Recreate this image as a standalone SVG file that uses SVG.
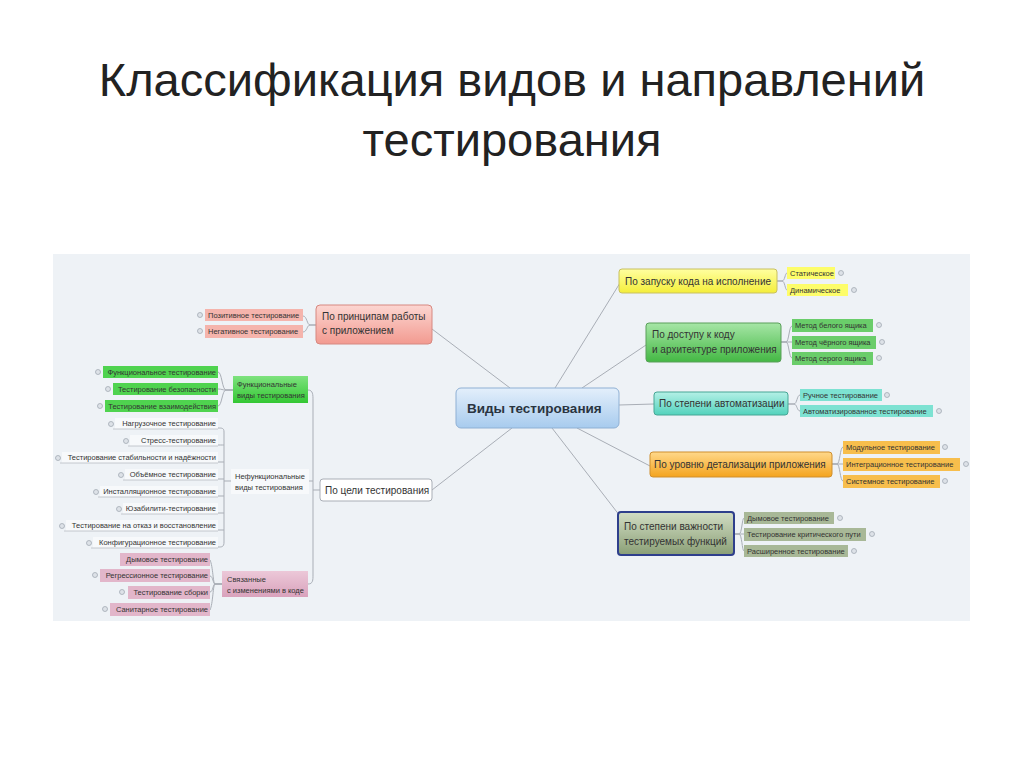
<svg xmlns="http://www.w3.org/2000/svg" width="1024" height="767" viewBox="0 0 1024 767">
<defs>
<linearGradient id="gC" x1="0" y1="0" x2="0" y2="1"><stop offset="0" stop-color="#e3effb"/><stop offset="1" stop-color="#a7cbee"/></linearGradient>
<linearGradient id="gR" x1="0" y1="0" x2="0" y2="1"><stop offset="0" stop-color="#fcd6d1"/><stop offset="1" stop-color="#f29a90"/></linearGradient>
<linearGradient id="gY" x1="0" y1="0" x2="0" y2="1"><stop offset="0" stop-color="#ffffa0"/><stop offset="1" stop-color="#f4ee3a"/></linearGradient>
<linearGradient id="gG" x1="0" y1="0" x2="0" y2="1"><stop offset="0" stop-color="#a6e6a6"/><stop offset="1" stop-color="#44b844"/></linearGradient>
<linearGradient id="gT" x1="0" y1="0" x2="0" y2="1"><stop offset="0" stop-color="#b4f0e6"/><stop offset="1" stop-color="#52d2bc"/></linearGradient>
<linearGradient id="gO" x1="0" y1="0" x2="0" y2="1"><stop offset="0" stop-color="#ffd88a"/><stop offset="1" stop-color="#f4a41e"/></linearGradient>
<linearGradient id="gV" x1="0" y1="0" x2="0" y2="1"><stop offset="0" stop-color="#d2ddc4"/><stop offset="1" stop-color="#8a9f76"/></linearGradient>
<linearGradient id="gF" x1="0" y1="0" x2="0" y2="1"><stop offset="0" stop-color="#7ee27e"/><stop offset="1" stop-color="#33c733"/></linearGradient>
<linearGradient id="gP" x1="0" y1="0" x2="0" y2="1"><stop offset="0" stop-color="#ecc8d8"/><stop offset="1" stop-color="#d9a2bc"/></linearGradient>
</defs>
<style>
text{font-family:"Liberation Sans",Arial,sans-serif;fill:#333}
.title{font-size:47px;fill:#222;text-anchor:middle}
.b{font-size:10px}
.s{font-size:7.5px}
.sr{font-size:7.5px;text-anchor:end}
.c{font-size:13.5px;font-weight:bold;fill:#2a3440}
.con path,.con line{fill:none;stroke:#a9aeb6;stroke-width:1}
.dot{fill:#dde2e8;stroke:#9aa2ac;stroke-width:0.7}
.ul{stroke:#b8bcc4;stroke-width:0.8;fill:none}
</style>
<rect width="1024" height="767" fill="#ffffff"/>
<text class="title" x="512" y="96">Классификация видов и направлений</text>
<text class="title" x="512" y="156">тестирования</text>
<rect x="53" y="254" width="917" height="367" fill="#eef2f6"/>

<g id="connectors" class="con">
<line x1="510" y1="388" x2="432" y2="329"/>
<line x1="555" y1="388" x2="620" y2="283"/>
<line x1="582" y1="388" x2="646" y2="345"/>
<line x1="619" y1="405" x2="654" y2="404"/>
<line x1="577" y1="428" x2="650" y2="466"/>
<line x1="552" y1="428" x2="620" y2="516"/>
<line x1="512" y1="428" x2="432" y2="490"/>
<path d="M316,325 H310 C307,325 307,316 303,316"/>
<path d="M316,325 H310 C307,325 307,332 303,332"/>
<path d="M320,490 H313"/>
<path d="M308,390 C313,390 313,395 313,400 V575 C313,580 313,584 308,584"/>
<path d="M313,481 H309"/>
<path d="M233,390 H226 C222,390 222,372 218,372"/>
<path d="M233,390 H226 C222,390 222,389 218,389"/>
<path d="M233,390 H226 C222,390 222,406 218,406"/>
<path d="M231,481 H224"/>
<path d="M224,481 V432 C224,428 222,428 218,428"/>
<path d="M224,445 C224,445 222,445 218,445"/>
<path d="M224,462 H218"/>
<path d="M224,479 H218"/>
<path d="M224,481 V542 C224,547 222,547 218,547"/>
<path d="M224,496 H218"/>
<path d="M224,513 H218"/>
<path d="M224,530 H218"/>
<path d="M222,584 H215 C213,584 213,566 210,560"/>
<path d="M222,584 H215 C213,584 213,576 210,576"/>
<path d="M222,584 H215 C213,584 213,592 210,592"/>
<path d="M222,584 H215 C213,584 213,604 210,610"/>
<path d="M777,281 H782 C785,281 785,273 787,273"/>
<path d="M777,281 H782 C785,281 785,290 787,290"/>
<path d="M781,342 H786 C789,342 789,326 792,326"/>
<path d="M781,342 H792"/>
<path d="M781,342 H786 C789,342 789,358 792,358"/>
<path d="M788,404 H794 C797,404 797,395 800,395"/>
<path d="M788,404 H794 C797,404 797,411 800,411"/>
<path d="M832,464 H837 C840,464 840,447 843,447"/>
<path d="M832,464 H843"/>
<path d="M832,464 H837 C840,464 840,481 843,481"/>
<path d="M734,534 H739 C742,534 742,518 744,518"/>
<path d="M734,534 H744"/>
<path d="M734,534 H739 C742,534 742,551 744,551"/>
</g>

<g id="center">
<rect x="456" y="388" width="163" height="40" rx="5" fill="url(#gC)" stroke="#8fb0d4"/>
<text class="c" x="467" y="413">Виды тестирования</text>
</g>

<g id="principles">
<rect x="316" y="305" width="116" height="39" rx="4" fill="url(#gR)" stroke="#d68880"/>
<text class="b" x="322" y="320">По принципам работы</text>
<text class="b" x="322" y="334">с приложением</text>
</g>
<g id="positive">
<rect x="205" y="309" width="98" height="12" fill="#f5b4ac"/>
<circle class="dot" cx="200" cy="315" r="2.5"/>
<text class="s" x="208" y="318">Позитивное тестирование</text>
</g>
<g id="negative">
<rect x="205" y="325" width="98" height="13" fill="#f5b4ac"/>
<circle class="dot" cx="200" cy="331" r="2.5"/>
<text class="s" x="208" y="334">Негативное тестирование</text>
</g>

<g id="goal">
<rect x="320" y="479" width="112" height="22" rx="3" fill="#ffffff" stroke="#a9aeb6"/>
<text class="b" x="325" y="494">По цели тестирования</text>
</g>

<g id="functional">
<rect x="233" y="376" width="75" height="27" fill="url(#gF)"/>
<text class="s" x="237" y="387">Функциональные</text>
<text class="s" x="237" y="398">виды тестирования</text>
</g>
<g id="func1">
<rect x="103" y="366" width="115" height="12" fill="#4fd34f"/>
<circle class="dot" cx="98" cy="372" r="2.5"/>
<text class="sr" x="216" y="375">Функциональное тестирование</text>
</g>
<g id="func2">
<rect x="113" y="383" width="105" height="12" fill="#4fd34f"/>
<circle class="dot" cx="108" cy="389" r="2.5"/>
<text class="sr" x="216" y="392">Тестирование безопасности</text>
</g>
<g id="func3">
<rect x="105" y="400" width="113" height="12" fill="#4fd34f"/>
<circle class="dot" cx="100" cy="406" r="2.5"/>
<text class="sr" x="216" y="409">Тестирование взаимодействия</text>
</g>

<g id="nonfunctional">
<rect x="231" y="469" width="78" height="25" fill="#f7f9fb"/>
<text class="s" x="235" y="479">Нефункциональные</text>
<text class="s" x="235" y="490">виды тестирования</text>
</g>
<g id="nf1"><rect x="115" y="418" width="103" height="11" fill="#f7f9fb"/><line class="ul" x1="113" y1="429" x2="218" y2="429"/><circle class="dot" cx="111" cy="424" r="2.5"/><text class="sr" x="216" y="426">Нагрузочное тестирование</text></g>
<g id="nf2"><rect x="130" y="435" width="88" height="11" fill="#f7f9fb"/><line class="ul" x1="128" y1="446" x2="218" y2="446"/><circle class="dot" cx="126" cy="441" r="2.5"/><text class="sr" x="216" y="443">Стресс-тестирование</text></g>
<g id="nf3"><rect x="62" y="452" width="156" height="11" fill="#f7f9fb"/><line class="ul" x1="60" y1="463" x2="218" y2="463"/><circle class="dot" cx="58" cy="458" r="2.5"/><text class="sr" x="216" y="460">Тестирование стабильности и надёжности</text></g>
<g id="nf4"><rect x="125" y="469" width="93" height="11" fill="#f7f9fb"/><line class="ul" x1="123" y1="480" x2="218" y2="480"/><circle class="dot" cx="121" cy="475" r="2.5"/><text class="sr" x="216" y="477">Объёмное тестирование</text></g>
<g id="nf5"><rect x="100" y="486" width="118" height="11" fill="#f7f9fb"/><line class="ul" x1="98" y1="497" x2="218" y2="497"/><circle class="dot" cx="96" cy="492" r="2.5"/><text class="sr" x="216" y="494">Инсталляционное тестирование</text></g>
<g id="nf6"><rect x="123" y="503" width="95" height="11" fill="#f7f9fb"/><line class="ul" x1="121" y1="514" x2="218" y2="514"/><circle class="dot" cx="119" cy="509" r="2.5"/><text class="sr" x="216" y="511">Юзабилити-тестирование</text></g>
<g id="nf7"><rect x="66" y="520" width="152" height="11" fill="#f7f9fb"/><line class="ul" x1="64" y1="531" x2="218" y2="531"/><circle class="dot" cx="62" cy="526" r="2.5"/><text class="sr" x="216" y="528">Тестирование на отказ и восстановление</text></g>
<g id="nf8"><rect x="93" y="537" width="125" height="11" fill="#f7f9fb"/><line class="ul" x1="91" y1="548" x2="218" y2="548"/><circle class="dot" cx="89" cy="543" r="2.5"/><text class="sr" x="216" y="545">Конфигурационное тестирование</text></g>

<g id="codechanges">
<rect x="222" y="571" width="86" height="26" fill="url(#gP)"/>
<text class="s" x="227" y="582">Связанные</text>
<text class="s" x="227" y="593">с изменениями в коде</text>
</g>
<g id="cc1"><rect x="120" y="553" width="90" height="13" fill="#e2b6ca"/><text class="sr" x="208" y="562">Дымовое тестирование</text></g>
<g id="cc2"><rect x="100" y="569" width="110" height="13" fill="#e2b6ca"/><circle class="dot" cx="95" cy="575" r="2.5"/><text class="sr" x="208" y="578">Регрессионное тестирование</text></g>
<g id="cc3"><rect x="128" y="586" width="82" height="13" fill="#e2b6ca"/><circle class="dot" cx="122" cy="592" r="2.5"/><text class="sr" x="208" y="595">Тестирование сборки</text></g>
<g id="cc4"><rect x="110" y="603" width="100" height="13" fill="#e2b6ca"/><circle class="dot" cx="105" cy="609" r="2.5"/><text class="sr" x="208" y="612">Санитарное тестирование</text></g>

<g id="launch">
<rect x="619" y="269" width="158" height="24" rx="3" fill="url(#gY)" stroke="#c8c060"/>
<text class="b" x="625" y="285">По запуску кода на исполнение</text>
</g>
<g id="static"><rect x="787" y="267" width="48" height="12" fill="#fdfd6a"/><circle class="dot" cx="841" cy="273" r="2.5"/><text class="s" x="790" y="276">Статическое</text></g>
<g id="dynamic"><rect x="787" y="284" width="61" height="12" fill="#fdfd6a"/><circle class="dot" cx="854" cy="290" r="2.5"/><text class="s" x="790" y="293">Динамическое</text></g>

<g id="access">
<rect x="646" y="323" width="135" height="39" rx="3" fill="url(#gG)" stroke="#5a9f5a"/>
<text class="b" x="652" y="338">По доступу к коду</text>
<text class="b" x="652" y="353">и архитектуре приложения</text>
</g>
<g id="white"><rect x="792" y="319" width="81" height="13" fill="#6acd6a"/><circle class="dot" cx="879" cy="325" r="2.5"/><text class="s" x="795" y="328">Метод белого ящика</text></g>
<g id="black"><rect x="792" y="336" width="84" height="13" fill="#6acd6a"/><circle class="dot" cx="882" cy="342" r="2.5"/><text class="s" x="795" y="345">Метод чёрного ящика</text></g>
<g id="grey"><rect x="792" y="352" width="81" height="13" fill="#6acd6a"/><circle class="dot" cx="879" cy="358" r="2.5"/><text class="s" x="795" y="361">Метод серого ящика</text></g>

<g id="automation">
<rect x="654" y="392" width="134" height="23" rx="3" fill="url(#gT)" stroke="#46a695"/>
<text class="b" x="659" y="407">По степени автоматизации</text>
</g>
<g id="manual"><rect x="800" y="389" width="82" height="12" fill="#7de2d2"/><circle class="dot" cx="887" cy="395" r="2.5"/><text class="s" x="803" y="398">Ручное тестирование</text></g>
<g id="automated"><rect x="800" y="405" width="133" height="12" fill="#7de2d2"/><circle class="dot" cx="939" cy="411" r="2.5"/><text class="s" x="803" y="414">Автоматизированное тестирование</text></g>

<g id="detail">
<rect x="650" y="452" width="182" height="25" rx="3" fill="url(#gO)" stroke="#cf8f2e"/>
<text class="b" x="654" y="468">По уровню детализации приложения</text>
</g>
<g id="unit"><rect x="843" y="441" width="97" height="13" fill="#f7be4c"/><circle class="dot" cx="945" cy="447" r="2.5"/><text class="s" x="846" y="450">Модульное тестирование</text></g>
<g id="integration"><rect x="843" y="458" width="117" height="13" fill="#f7be4c"/><circle class="dot" cx="966" cy="464" r="2.5"/><text class="s" x="846" y="467">Интеграционное тестирование</text></g>
<g id="system"><rect x="843" y="475" width="97" height="13" fill="#f7be4c"/><circle class="dot" cx="945" cy="481" r="2.5"/><text class="s" x="846" y="484">Системное тестирование</text></g>

<g id="importance">
<rect x="618" y="512" width="116" height="43" rx="3" fill="url(#gV)" stroke="#2e3f8c" stroke-width="2"/>
<text class="b" x="624" y="530">По степени важности</text>
<text class="b" x="624" y="545">тестируемых функций</text>
</g>
<g id="smoke"><rect x="744" y="512" width="90" height="12" fill="#a8b897"/><circle class="dot" cx="840" cy="518" r="2.5"/><text class="s" x="747" y="521">Дымовое тестирование</text></g>
<g id="critical"><rect x="744" y="528" width="122" height="13" fill="#a8b897"/><circle class="dot" cx="872" cy="534" r="2.5"/><text class="s" x="747" y="537">Тестирование критического пути</text></g>
<g id="extended"><rect x="744" y="545" width="104" height="12" fill="#a8b897"/><circle class="dot" cx="854" cy="551" r="2.5"/><text class="s" x="747" y="554">Расширенное тестирование</text></g>
</svg>
